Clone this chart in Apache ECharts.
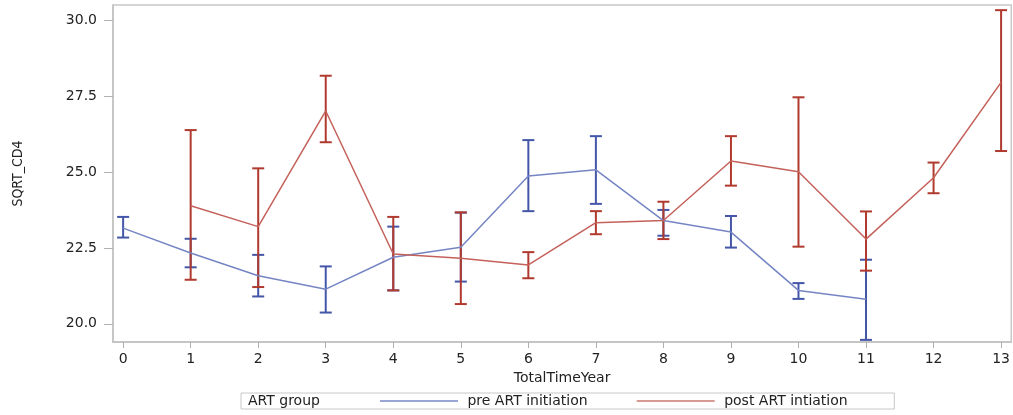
<!DOCTYPE html>
<html>
<head>
<meta charset="utf-8">
<script src="https://cdn.jsdelivr.net/npm/echarts@6/dist/echarts.min.js"></script>
<style>html,body{margin:0;padding:0;background:#fff;}#c{width:1013px;height:415px;}</style>
</head>
<body>
<div id="c"></div>
<script>
const xTicks = [0,1,2,3,4,5,6,7,8,9,10,11,12,13];
const yTicks = [20, 22.5, 25, 27.5, 30];

const preYears = [0,1,2,3,4,5,6,7,8,9,10,11];
const preMean  = [23.15,22.33,21.58,21.14,22.19,22.52,24.87,25.07,23.40,23.02,21.10,20.81];
const preLow   = [22.84,21.86,20.90,20.37,21.10,21.39,23.71,23.95,22.90,22.51,20.82,19.47];
const preHigh  = [23.52,22.80,22.27,21.89,23.20,23.66,26.05,26.18,23.75,23.55,21.34,22.11];

const postYears = [1,2,3,4,5,6,7,8,9,10,11,12,13];
const postMean  = [23.89,23.20,27.01,22.30,22.16,21.94,23.33,23.40,25.36,25.01,22.79,24.81,27.95];
const postLow   = [21.45,21.21,25.98,21.10,20.65,21.50,22.95,22.79,24.55,22.54,21.75,24.30,25.69];
const postHigh  = [26.38,25.12,28.17,23.52,23.67,22.36,23.71,24.02,26.18,27.46,23.70,25.31,30.33];

const preName = 'pre ART initiation';
const postName = 'post ART intiation';
const legendTitle = 'ART group';

const FONT = 'DejaVu Sans';

function errRender(color) {
  return function (params, api) {
    const x = api.value(0), lo = api.value(1), hi = api.value(2);
    const a = api.coord([x, lo]), b = api.coord([x, hi]);
    const w = 6;
    const st = { stroke: color, lineWidth: 2 };
    return {
      type: 'group',
      children: [
        { type: 'line', shape: { x1: a[0], y1: a[1], x2: b[0], y2: b[1] }, style: st },
        { type: 'line', shape: { x1: a[0] - w, y1: a[1], x2: a[0] + w, y2: a[1] }, style: st },
        { type: 'line', shape: { x1: b[0] - w, y1: b[1], x2: b[0] + w, y2: b[1] }, style: st }
      ]
    };
  };
}

const preLine = preYears.map((x, i) => [x, preMean[i]]);
const postLine = postYears.map((x, i) => [x, postMean[i]]);
const preErr = preYears.map((x, i) => [x, preLow[i], preHigh[i]]);
const postErr = postYears.map((x, i) => [x, postLow[i], postHigh[i]]);

const chart = echarts.init(document.getElementById('c'), null, { renderer: 'canvas' });
chart.setOption({
  animation: false,
  backgroundColor: '#fff',
  grid: { left: 113, top: 5, width: 904, height: 337, show: true, borderColor: '#c8c8c8', borderWidth: 1.5 },
  xAxis: {
    type: 'value', min: -0.15, max: 13.15,
    name: 'TotalTimeYear', nameLocation: 'middle', nameGap: 29,
    nameTextStyle: { fontFamily: FONT, fontSize: 14, color: '#222' },
    axisLine: { show: true, onZero: false, lineStyle: { color: '#c0c0c0', width: 1.5 } },
    axisTick: { show: true, length: 6, customValues: xTicks, lineStyle: { color: '#b0b0b0' } },
    axisLabel: { customValues: xTicks, margin: 10, fontFamily: FONT, fontSize: 14, color: '#222' },
    splitLine: { show: false }
  },
  yAxis: {
    type: 'value', min: 19.4, max: 30.5,
    name: 'SQRT_CD4', nameLocation: 'middle', nameGap: 88, nameRotate: 90,
    nameTextStyle: { fontFamily: 'Liberation Sans Narrow, DejaVu Sans Condensed, Liberation Sans', fontSize: 14, color: '#222' },
    axisLine: { show: true, onZero: false, lineStyle: { color: '#c0c0c0', width: 1.5 } },
    axisTick: { show: true, length: 9, customValues: yTicks, lineStyle: { color: '#b0b0b0' } },
    axisLabel: { customValues: yTicks, margin: 16, fontFamily: FONT, fontSize: 14, color: '#222',
      formatter: v => v.toFixed(1) },
    splitLine: { show: false }
  },
  legend: {
    left: 241, top: 393,
    padding: [1, 11, 1, 139],
    borderColor: '#c8c8c8', borderWidth: 1,
    itemGap: 18, itemWidth: 78, itemHeight: 2,
    formatter: name => (name === preName
      ? '\u00a0' + name + '\u00a0\u00a0\u00a0\u00a0\u00a0\u00a0\u00a0'
      : '\u00a0' + name + '\u00a0\u00a0\u00a0\u00a0\u00a0\u00a0\u00a0\u00a0'),
    textStyle: { fontFamily: FONT, fontSize: 14, color: '#222' },
    data: [
      { name: preName, icon: 'rect', itemStyle: { color: '#9aa6d6' } },
      { name: postName, icon: 'rect', itemStyle: { color: '#d89a95' } }
    ]
  },
  graphic: [
    { type: 'text', left: 248, top: 394, style: { text: legendTitle, font: '14px "DejaVu Sans"', fill: '#222' } }
  ],
  series: [
    { name: preName, type: 'line', data: preLine, showSymbol: false, symbol: 'none',
      lineStyle: { color: '#7585c4', width: 1.5 }, itemStyle: { color: '#7585c4' } },
    { name: postName, type: 'line', data: postLine, showSymbol: false, symbol: 'none',
      lineStyle: { color: '#c4615a', width: 1.5 }, itemStyle: { color: '#c4615a' } },
    { name: preName, type: 'custom', data: preErr, encode: { x: 0, y: [1, 2] },
      renderItem: errRender('#4456a8'), itemStyle: { color: '#4456a8' } },
    { name: postName, type: 'custom', data: postErr, encode: { x: 0, y: [1, 2] },
      renderItem: errRender('#b03a2e'), itemStyle: { color: '#b03a2e' } }
  ]
});
</script>
</body>
</html>
